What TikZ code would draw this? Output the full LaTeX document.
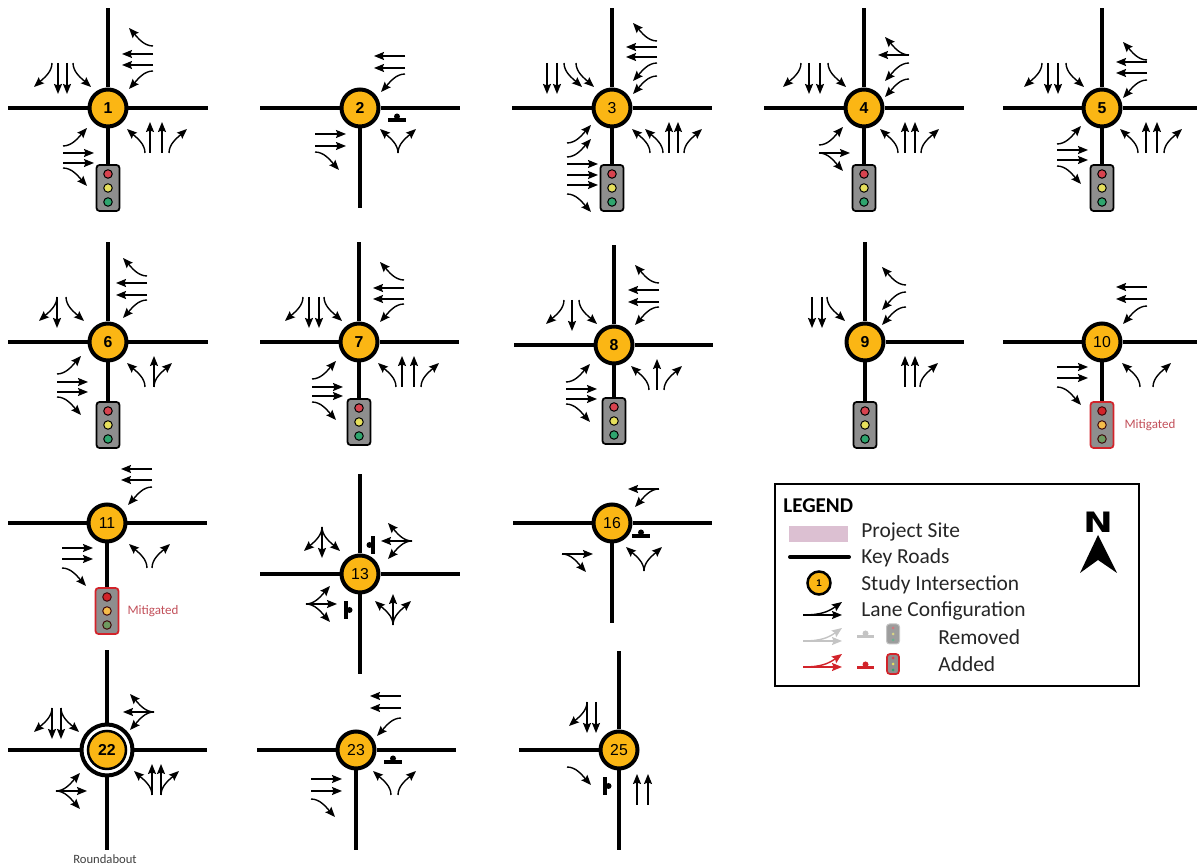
\documentclass[tikz,border=0pt]{standalone}
\usepackage{fontspec}
\setmainfont{Carlito}
\newfontfamily\numfont{Liberation Sans}
\newfontfamily\northfont{DejaVu Sans}
\usetikzlibrary{arrows.meta,calc}
\definecolor{junctionfill}{HTML}{FBB614}
\definecolor{sigbody}{HTML}{8E8E8E}
\definecolor{lampred}{HTML}{D8434F}
\definecolor{lampyellow}{HTML}{E6E05C}
\definecolor{lampgreen}{HTML}{2FA56E}
\definecolor{addred}{HTML}{D2232A}
\definecolor{mitred}{HTML}{C2505A}
\definecolor{lampamber}{HTML}{F5BC4A}
\definecolor{lampolive}{HTML}{6E9A60}
\definecolor{sitepink}{HTML}{DCC0D2}
\definecolor{removedgray}{HTML}{C4C4C4}

% junction: name, x, y, label, angle/length of each road
\newcommand{\junction}[5]{%
    \node[junctionnode] (#1) at (#2,#3) {#4};
    \foreach \armang/\armlen in {#5} {
        \coordinate (#1-\armang) at ($(#1)+(\armang:\armlen)$);
        \draw[road] (#1) -- (#1-\armang);
    }
}
% signal head below a junction
\newcommand{\signal}[3]{%
    \node[sigbox] (#1) at (#2 |- 0,#3) {};
    \draw[road] (#2) -- (#1);
    \foreach \lampdy/\lampcol in {14/lampred,0/lampyellow,-14/lampgreen}
        \node[lamp,fill=\lampcol] (#1-\lampcol) at ($(#1)+(0,\lampdy)$) {};
}
\newcommand{\redsignal}[3]{%
    \node[sigbox,draw=addred] (#1) at (#2 |- 0,#3) {};
    \draw[road] (#2) -- (#1);
    \foreach \lampdy/\lampcol in {14/addred,0/lampamber,-14/lampolive}
        \node[lamp,fill=\lampcol,draw=black!70!addred] (#1-\lampcol) at ($(#1)+(0,\lampdy)$) {};
}
% lanes of one approach: [offset]{junction}{rotation}{curves in}{straight}{curves out}
\newcommand{\lanes}[6][0]{%
    \begin{scope}[shift={(#2)},rotate=#3,shift={(0,-#1)}]
        \foreach \u in {#4}
            \draw[lane] (\u,-45) .. controls (\u,-36) and ({\u-8},-30) .. ({\u-18},-21);
        \foreach \u in {#5}
            \draw[lane] (\u,-45) -- (\u,-14);
        \foreach \u in {#6}
            \draw[lane] (\u,-45) .. controls (\u,-36) and ({\u+8},-30) .. ({\u+18},-21);
    \end{scope}
}
% stop mark: junction, rotation, lateral offset, distance
\newcommand{\stopmark}[4]{%
    \begin{scope}[shift={(#1)},rotate=#2]
        \fill ({#3-9},{-#4-1.8}) rectangle ({#3+9},{-#4+1.8});
        \fill (#3,{-#4+3.5}) circle (3);
    \end{scope}
}
\newcommand{\laneicon}[2]{%
    \draw[lane,#1] (803,#2) -- (842,#2);
    \draw[lane,#1] (803,#2) .. controls (820,#2) and (828,{#2+3}) .. (842,{#2+13});
}

\begin{document}
\begin{tikzpicture}[
        x=0.02cm, y=0.02cm,
        road/.style={line width=0.08cm},
        lane/.style={line width=0.028cm, -{Stealth[length=0.2cm,width=0.16cm,inset=0.03cm]}},
        junctionnode/.style={circle, draw, line width=0.08cm, fill=junctionfill, minimum size=0.74cm, inner sep=0pt, font=\numfont\fontsize{9}{10}\selectfont},
        ringnode/.style={circle, draw, line width=0.08cm, fill=white, minimum size=1.02cm, inner sep=0pt},
        sigbox/.style={draw, rounded corners=0.06cm, line width=0.035cm, fill=sigbody, minimum width=0.46cm, minimum height=0.92cm, inner sep=0pt},
        lamp/.style={circle, draw, line width=0.02cm, minimum size=0.17cm, inner sep=0pt},
        minilamp/.style={circle, minimum size=0.06cm, inner sep=0pt},
        keytext/.style={anchor=west, inner sep=0pt, text=black!85, font=\fontsize{12.2}{14}\selectfont},
        mittext/.style={text=mitred, inner sep=0pt, font=\fontsize{7.4}{8}\selectfont}
    ]
    \useasboundingbox (0,0) rectangle (1197,865);

    % first row
    \junction{n1}{108}{757}{\textbf{1}}{180/100,0/100,90/100}
    \signal{s1}{n1}{677}
    \lanes{n1}{0}{37}{42,54}{61}
    \lanes{n1}{90}{37}{43,54}{62}
    \lanes{n1}{180}{35}{41,50}{56}
    \lanes{n1}{270}{38}{45,55}{60}

    \junction{n2}{360}{757}{\textbf{2}}{180/100,0/100,270/100}
    \lanes{n2}{90}{34}{40,52}{}
    \lanes{n2}{270}{}{26,38}{44}
    \lanes{n2}{0}{38}{}{38}
    \stopmark{n2}{0}{37}{12}

    \junction{n3}{612}{757}{3}{180/100,0/100,90/100}
    \signal{s3}{n3}{677}
    \lanes{n3}{0}{38,51}{57,66}{72}
    \lanes{n3}{90}{32,45}{51,61}{67}
    \lanes{n3}{180}{36,48}{55,65}{}
    \lanes{n3}{270}{35,49}{56,67,77}{86}

    \junction{n4}{864}{757}{\textbf{4}}{180/100,0/100,90/100}
    \signal{s4}{n4}{677}
    \lanes{n4}{0}{34}{41,51}{57}
    \lanes{n4}{90}{29,45}{53}{53}
    \lanes{n4}{180}{36}{44,55}{63}
    \lanes{n4}{270}{37}{45}{45}

    \junction{n5}{1102}{757}{\textbf{5}}{180/99,0/95,90/100}
    \signal{s5}{n5}{677}
    \lanes{n5}{0}{36}{44,55}{62}
    \lanes{n5}{90}{28}{35,46}{48}
    \lanes{n5}{180}{36}{44,54}{60}
    \lanes{n5}{270}{36}{42,52}{58}

    % second row
    \junction{n6}{108}{523}{\textbf{6}}{180/100,0/100,90/100}
    \signal{s6}{n6}{440}
    \lanes{n6}{0}{37}{46}{46}
    \lanes[-6]{n6}{90}{42}{47,59}{66}
    \lanes{n6}{180}{42}{51}{51}
    \lanes[6]{n6}{270}{32}{40,50}{55}

    \junction{n7}{359}{523}{\textbf{7}}{180/99,0/100,90/100}
    \signal{s7}{n7}{443}
    \lanes{n7}{0}{37}{43,55}{62}
    \lanes{n7}{90}{38}{43,54}{62}
    \lanes{n7}{180}{35}{40,50}{56}
    \lanes[2]{n7}{270}{37}{45,54}{60}

    \junction{n8}{614}{520}{\textbf{8}}{180/100,0/99,90/100}
    \signal{s8}{n8}{444}
    \lanes{n8}{0}{35}{43}{50}
    \lanes{n8}{90}{38}{43,55}{62}
    \lanes{n8}{180}{35}{42}{50}
    \lanes[3]{n8}{270}{37}{44,54}{59}

    \junction{n9}{865}{523}{\textbf{9}}{0/99,90/100}
    \signal{s9}{n9}{440}
    \lanes{n9}{0}{}{40,50}{55}
    \lanes[-4]{n9}{90}{35,50}{}{57}
    \lanes{n9}{180}{38}{43,53}{}

    \junction{n10}{1102}{523}{10}{180/99,0/95}
    \redsignal{s10}{n10}{440}
    \lanes{n10}{0}{38}{}{51}
    \lanes{n10}{90}{36}{43,55}{}
    \lanes{n10}{270}{}{25,36}{45}
    \node[mittext] (m10) at (1150,440) {Mitigated};

    % third row
    \junction{n11}{107}{342}{11}{180/99,0/100}
    \redsignal{s11}{n11}{254}
    \lanes{n11}{0}{40}{}{45}
    \lanes{n11}{90}{36}{43,54}{}
    \lanes{n11}{270}{}{25,36}{45}
    \node[mittext] (m11) at (153,254) {Mitigated};

    \junction{n13}{360}{291}{13}{180/100,0/100,90/100,270/100}
    \lanes[6]{n13}{0}{33}{33}{33}
    \lanes[7]{n13}{90}{33}{33}{33}
    \lanes[2]{n13}{180}{38}{38}{38}
    \lanes[9]{n13}{270}{30}{30}{30}
    \stopmark{n13}{90}{29}{13}
    \stopmark{n13}{270}{36}{14}

    \junction{n16}{612}{342}{16}{180/99,0/100,270/100}
    \lanes[2]{n16}{90}{34}{34}{}
    \lanes[5]{n16}{270}{}{31}{31}
    \lanes[3]{n16}{0}{32}{}{32}
    \stopmark{n16}{0}{29}{13}

    % fourth row
    \node[ringnode] (r22) at (107,115) {};
    \node[junctionnode,line width=0.05cm,minimum size=0.76cm] (n22) at (107,115) {\textbf{22}};
    \foreach \armang/\armlen in {180/99,0/100,90/100,270/100} {
        \coordinate (r22-\armang) at ($(r22)+(\armang:\armlen)$);
        \draw[road] (r22) -- (r22-\armang);
    }
    \lanes[-3]{n22}{180}{46}{46,55}{55}
    \lanes[2]{n22}{90}{38}{38}{38}
    \lanes{n22}{0}{45}{45,54}{54}
    \lanes[6]{n22}{270}{41}{41}{41}
    \node[mittext,text=black!75,font=\fontsize{7.2}{8}\selectfont] (r22-text) at (105,6) {Roundabout};

    \junction{n23}{356}{115}{23}{180/99,0/100,270/100}
    \lanes{n23}{90}{32}{42,54}{}
    \lanes{n23}{270}{}{29,41}{49}
    \lanes{n23}{0}{35}{}{42}
    \stopmark{n23}{0}{37}{12}

    \junction{n25}{619}{115}{25}{180/100,90/99,270/100}
    \lanes[3]{n25}{180}{}{23,32}{32}
    \lanes[7]{n25}{270}{}{}{17}
    \lanes[10]{n25}{0}{}{18,29}{}
    \stopmark{n25}{270}{36}{14}

    % legend
    \node[draw, line width=0.035cm, minimum width=7.28cm, minimum height=4.04cm, inner sep=0pt] (legendbox) at (957,280) {};
    \node[keytext,text=black,font=\bfseries\fontsize{12}{14}\selectfont] (legendtitle) at (783,359) {LEGEND};
    \fill[sitepink] (789,323) rectangle (848,339);
    \node[keytext] (keysite) at (861,333) {Project Site};
    \draw[road,line cap=round] (790,308) -- (849,308);
    \node[keytext] (keyroads) at (861,307) {Key Roads};
    \node[junctionnode,line width=0.05cm,minimum size=0.46cm,font=\numfont\fontsize{5.5}{6}\selectfont] (keyjunction) at (819,282) {\textbf{1}};
    \node[keytext] (keystudy) at (861,280) {Study Intersection};
    \laneicon{black}{250}
    \node[keytext] (keylane) at (861,254) {Lane Configuration};
    \laneicon{removedgray}{224}
    \begin{scope}[shift={(865.5,228)},removedgray]
        \fill (-8.5,-1.5) rectangle (8.5,1.5);
        \fill (0,3.5) circle (3);
    \end{scope}
    \node[sigbox,draw=removedgray,fill=removedgray!80!black,line width=0.02cm,minimum width=0.26cm,minimum height=0.4cm] (keygray) at (893,231) {};
    \foreach \lampdy/\lampcol in {6/lampred,0/lampyellow,-6/lampgreen}
        \node[minilamp,fill=\lampcol!60!removedgray] (keygray-\lampcol) at ($(keygray)+(0,\lampdy)$) {};
    \node[keytext] (keyremoved) at (938,228) {Removed};
    \laneicon{addred}{198}
    \begin{scope}[shift={(865.5,197)},addred]
        \fill (-8.5,-1.5) rectangle (8.5,1.5);
        \fill (0,3.5) circle (3);
    \end{scope}
    \node[sigbox,draw=addred,line width=0.035cm,minimum width=0.24cm,minimum height=0.4cm] (keyred) at (893,201) {};
    \foreach \lampdy/\lampcol in {6/lampred,0/lampyellow,-6/lampgreen}
        \node[minilamp,fill=\lampcol] (keyred-\lampcol) at ($(keyred)+(0,\lampdy)$) {};
    \node[keytext] (keyadded) at (938,201) {Added};

    % north arrow
    \node[inner sep=0pt, xscale=1.25, font=\northfont\bfseries\fontsize{16}{18}\selectfont] (northtext) at (1098,343) {N};
    \fill (1098,330) -- (1080,292) -- (1098,305) -- (1117,292) -- cycle;
\end{tikzpicture}
\end{document}
